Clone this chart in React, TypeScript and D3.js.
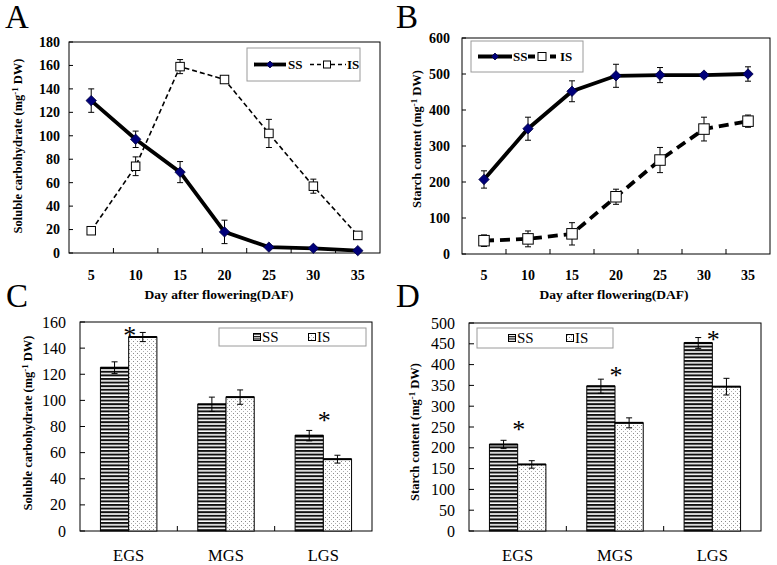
import React from "react";
import * as d3 from "d3";

const days = ["5", "10", "15", "20", "25", "30", "35"];
const aSS = [130, 97, 69, 18, 5, 4, 2];
const aSSErr = [10, 7, 9, 10, 1, 1, 1];
const aIS = [19, 74, 159, 148, 102, 57, 15];
const aISErr = [1, 8, 6, 2, 12, 6, 1];
const bSS = [207, 348, 452, 495, 497, 497, 500];
const bSSErr = [24, 32, 29, 32, 21, 6, 20];
const bIS = [37, 42, 56, 159, 261, 347, 369];
const bISErr = [16, 22, 31, 21, 35, 33, 17];

const stages = ["EGS", "MGS", "LGS"];
const series = ["SS", "IS"];
const cSS = [125, 97, 73];
const cSSErr = [4.5, 5.5, 4];
const cIS = [148.5, 102.5, 55];
const cISErr = [3.5, 5.5, 3];
const cStars = [
  { stage: "EGS", value: 152 },
  { stage: "LGS", value: 87 },
];
const dSS = [208, 348, 452];
const dSSErr = [10, 17, 13];
const dIS = [160, 260, 347];
const dISErr = [9, 12, 20];
const dStars = [
  { stage: "EGS", value: 253 },
  { stage: "MGS", value: 383 },
  { stage: "LGS", value: 468 },
];

const serif = "'Liberation Serif','Times New Roman',serif";
const NAVY = "#00007a";

function Diamond({ x, y, r }: { x: number; y: number; r: number }) {
  return (
    <path
      d={`M${x},${y - r}L${x + r},${y}L${x},${y + r}L${x - r},${y}Z`}
      fill={NAVY}
      stroke="#000040"
      strokeWidth={0.8}
    />
  );
}

function Square({ x, y, s }: { x: number; y: number; s: number }) {
  return <rect x={x - s / 2} y={y - s / 2} width={s} height={s} fill="#fff" stroke="#000" strokeWidth={1} />;
}

function YTitle({ x, y, label, size }: { x: number; y: number; label: string; size: number }) {
  return (
    <text
      transform={`translate(${x},${y}) rotate(-90)`}
      textAnchor="middle"
      fontFamily={serif}
      fontWeight="bold"
      fontSize={size}
      dy="0.35em"
    >
      {label} (mg
      <tspan dy={-4} fontSize={size * 0.7}>
        -1
      </tspan>
      <tspan dy={4}> DW)</tspan>
    </text>
  );
}

type LineProps = {
  l: number; r: number; t: number; b: number;
  yMax: number; yStep: number;
  ss: number[]; ssErr: number[]; is: number[]; isErr: number[];
  labelGap: number;
  title: string; titleX: number; titleY: number;
  isDash: string; isWidth: number; sq: number;
  leg: { x: number; y: number; w: number; h: number; ssX1: number; ssX2: number; ssT: number; isX1: number; isX2: number; isSq: number; isT: number; isDash: string; isW: number; legSq: number };
  letter: string; letterX: number; xTitleX: number;
};

function LinePanel(p: LineProps) {
  const x = d3.scaleBand().domain(days).range([p.l, p.r]).padding(0);
  const cx = (d: string) => (x(d) as number) + x.bandwidth() / 2;
  const y = d3.scaleLinear().domain([0, p.yMax]).range([p.b, p.t]);
  const ticks = d3.range(0, p.yMax + p.yStep / 2, p.yStep);
  const line = d3
    .line<number>()
    .x((_, i) => cx(days[i]))
    .y((v) => y(v));
  const errs = (vals: number[], e: number[]) =>
    vals.map((v, i) => {
      const X = cx(days[i]);
      const y1 = y(v + e[i]);
      const y2 = y(Math.max(0, v - e[i]));
      return (
        <g key={i} stroke="#000" strokeWidth={1}>
          <line x1={X} x2={X} y1={y1} y2={y2} />
          <line x1={X - 3} x2={X + 3} y1={y1} y2={y1} />
          <line x1={X - 3} x2={X + 3} y1={y2} y2={y2} />
        </g>
      );
    });
  const L = p.leg;
  const cy = L.y + L.h / 2;
  return (
    <g>
      <text x={p.letterX} y={28} fontFamily={serif} fontSize={33}>
        {p.letter}
      </text>
      <rect x={p.l} y={p.t} width={p.r - p.l} height={p.b - p.t} fill="#fff" stroke="#000" strokeWidth={1} />
      {ticks.map((v) => (
        <g key={v}>
          <line x1={p.l} x2={p.l + 4} y1={y(v)} y2={y(v)} stroke="#000" />
          <text
            x={p.l - p.labelGap}
            y={y(v)}
            dy="0.35em"
            textAnchor="end"
            fontFamily={serif}
            fontWeight="bold"
            fontSize={14}
          >
            {v}
          </text>
        </g>
      ))}
      {days.slice(1).map((d) => (
        <line key={d} x1={x(d) as number} x2={x(d) as number} y1={p.b} y2={p.b - 5} stroke="#000" />
      ))}
      {days.map((d) => (
        <text key={d} x={cx(d)} y={280} textAnchor="middle" fontFamily={serif} fontWeight="bold" fontSize={14}>
          {d}
        </text>
      ))}
      <text x={p.xTitleX} y={299} textAnchor="middle" fontFamily={serif} fontWeight="bold" fontSize={13.5}>
        Day after flowering(DAF)
      </text>
      <YTitle x={p.titleX} y={p.titleY} label={p.title} size={12.5} />
      {errs(p.is, p.isErr)}
      {errs(p.ss, p.ssErr)}
      <path d={line(p.is) as string} fill="none" stroke="#000" strokeWidth={p.isWidth} strokeDasharray={p.isDash} />
      <path d={line(p.ss) as string} fill="none" stroke="#000" strokeWidth={3.8} />
      {p.is.map((v, i) => (
        <Square key={i} x={cx(days[i])} y={y(v)} s={p.sq} />
      ))}
      {p.ss.map((v, i) => (
        <Diamond key={i} x={cx(days[i])} y={y(v)} r={5.2} />
      ))}
      <rect x={L.x} y={L.y} width={L.w} height={L.h} fill="#fff" stroke="#9a9a9a" strokeWidth={1} />
      <line x1={L.ssX1} x2={L.ssX2} y1={cy} y2={cy} stroke="#000" strokeWidth={3.8} />
      <Diamond x={(L.ssX1 + L.ssX2) / 2} y={cy} r={3.5} />
      <text x={L.ssT} y={cy} dy="0.35em" fontFamily={serif} fontWeight="bold" fontSize={13}>
        SS
      </text>
      <line x1={L.isX1} x2={L.isX2} y1={cy} y2={cy} stroke="#000" strokeWidth={L.isW} strokeDasharray={L.isDash} />
      <Square x={L.isSq} y={cy} s={L.legSq} />
      <text x={L.isT} y={cy} dy="0.35em" fontFamily={serif} fontWeight="bold" fontSize={13}>
        IS
      </text>
    </g>
  );
}

type BarProps = {
  l: number; r: number; t: number; b: number;
  yMax: number; yStep: number;
  ss: number[]; ssErr: number[]; is: number[]; isErr: number[];
  stars: { stage: string; value: number }[];
  title: string; titleX: number; titleY: number;
  leg: { x: number; y: number; w: number; h: number; ssI: number; isI: number };
  letter: string; letterX: number;
};

function BarPanel(p: BarProps) {
  const x0 = d3.scaleBand().domain(stages).range([p.l, p.r]).paddingInner(0.42).paddingOuter(0.21);
  const x1 = d3.scaleBand().domain(series).range([0, x0.bandwidth()]);
  const y = d3.scaleLinear().domain([0, p.yMax]).range([p.b, p.t]);
  const ticks = d3.range(0, p.yMax + p.yStep / 2, p.yStep);
  const step = x0.step();
  const L = p.leg;
  const cy = L.y + L.h / 2;
  const bars = (vals: number[], errs: number[], s: string) =>
    vals.map((v, i) => {
      const bx = (x0(stages[i]) as number) + (x1(s) as number);
      const bw = x1.bandwidth();
      const X = bx + bw / 2;
      const y1 = y(v + errs[i]);
      const y2 = y(v - errs[i]);
      return (
        <g key={s + i}>
          <rect
            x={bx}
            y={y(v)}
            width={bw}
            height={p.b - y(v)}
            fill={s === "SS" ? "url(#stripes)" : "url(#dots)"}
            stroke="#000"
            strokeWidth={1}
          />
          <line x1={bx} x2={bx + bw} y1={y(v)} y2={y(v)} stroke="#000" strokeWidth={2} />
          <g stroke="#000" strokeWidth={1}>
            <line x1={X} x2={X} y1={y1} y2={y2} />
            <line x1={X - 3} x2={X + 3} y1={y1} y2={y1} />
            <line x1={X - 3} x2={X + 3} y1={y2} y2={y2} />
          </g>
        </g>
      );
    });
  return (
    <g>
      <text x={p.letterX} y={307} fontFamily={serif} fontSize={33}>
        {p.letter}
      </text>
      <rect x={p.l} y={p.t} width={p.r - p.l} height={p.b - p.t} fill="#fff" stroke="#000" strokeWidth={1} />
      {ticks.map((v) => (
        <g key={v}>
          <line x1={p.l} x2={p.l + 5} y1={y(v)} y2={y(v)} stroke="#000" />
          <text x={p.l - 14} y={y(v)} dy="0.35em" textAnchor="end" fontFamily={serif} fontSize={16}>
            {v}
          </text>
        </g>
      ))}
      {[1, 2].map((i) => (
        <line key={i} x1={p.l + i * step} x2={p.l + i * step} y1={p.b} y2={p.b - 5} stroke="#000" />
      ))}
      {stages.map((s) => (
        <text
          key={s}
          x={(x0(s) as number) + x0.bandwidth() / 2}
          y={561}
          textAnchor="middle"
          fontFamily={serif}
          fontSize={16.5}
        >
          {s}
        </text>
      ))}
      <YTitle x={p.titleX} y={p.titleY} label={p.title} size={12.5} />
      {bars(p.ss, p.ssErr, "SS")}
      {bars(p.is, p.isErr, "IS")}
      {p.stars.map((st) => (
        <text
          key={st.stage}
          x={(x0(st.stage) as number) + x0.bandwidth() / 2 + 1}
          y={y(st.value) + 12}
          textAnchor="middle"
          fontFamily={serif}
          fontSize={26}
        >
          *
        </text>
      ))}
      <rect x={L.x} y={L.y} width={L.w} height={L.h} fill="#fff" stroke="#9a9a9a" strokeWidth={1} />
      <rect x={L.ssI - 3.5} y={cy - 3.5} width={7} height={7} fill="url(#stripesL)" stroke="#000" strokeWidth={1} />
      <text x={L.ssI + 5} y={cy} dy="0.35em" fontFamily={serif} fontSize={15}>
        SS
      </text>
      <rect x={L.isI - 3.5} y={cy - 3.5} width={7} height={7} fill="url(#dots)" stroke="#000" strokeWidth={1} />
      <text x={L.isI + 5} y={cy} dy="0.35em" fontFamily={serif} fontSize={15}>
        IS
      </text>
    </g>
  );
}

export default function App() {
  return (
    <svg
      width={777}
      height={565}
      style={{ position: "fixed", left: 0, top: 0, background: "#fff" }}
    >
      <defs>
        <pattern id="stripes" patternUnits="userSpaceOnUse" width={6} height={3.6}>
          <rect width={6} height={3.6} fill="#fff" />
          <rect y={0} width={6} height={2} fill="#111" />
        </pattern>
        <pattern id="stripesL" patternUnits="userSpaceOnUse" width={6} height={2.4}>
          <rect width={6} height={2.4} fill="#fff" />
          <rect y={0} width={6} height={1.2} fill="#111" />
        </pattern>
        <pattern id="dots" patternUnits="userSpaceOnUse" width={4} height={4}>
          <rect width={4} height={4} fill="#fff" />
          <rect x={1} y={1} width={1} height={1} fill="#8a8a8a" />
          <rect x={3} y={3} width={1} height={1} fill="#b0b0b0" />
        </pattern>
      </defs>
      <rect width={777} height={565} fill="#fff" />
      <LinePanel
        l={69} r={380} t={42} b={253}
        yMax={180} yStep={20}
        ss={aSS} ssErr={aSSErr} is={aIS} isErr={aISErr}
        labelGap={9}
        title="Soluble carbohydrate" titleX={18} titleY={146}
        isDash="5,3" isWidth={1.6} sq={8.5}
        leg={{ x: 247, y: 48, w: 113, h: 33, ssX1: 254, ssX2: 286, ssT: 288, isX1: 310, isX2: 346, isSq: 327, isT: 347, isDash: "4,3", isW: 1.6, legSq: 7 }}
        letter="A" letterX={5} xTitleX={219}
      />
      <LinePanel
        l={462} r={770} t={38} b={254}
        yMax={600} yStep={100}
        ss={bSS} ssErr={bSSErr} is={bIS} isErr={bISErr}
        labelGap={12}
        title="Starch content" titleX={417} titleY={139}
        isDash="10,6" isWidth={3.8} sq={10.5}
        leg={{ x: 471, y: 41, w: 112, h: 31, ssX1: 478, ssX2: 512, ssT: 513, isX1: 528, isX2: 556, isSq: 542, isT: 560, isDash: "7,4", isW: 3.8, legSq: 8 }}
        letter="B" letterX={396} xTitleX={614}
      />
      <BarPanel
        l={80} r={372} t={322} b={531}
        yMax={160} yStep={20}
        ss={cSS} ssErr={cSSErr} is={cIS} isErr={cISErr}
        stars={cStars}
        title="Soluble carbohydrate" titleX={28} titleY={423}
        leg={{ x: 219, y: 328, w: 147, h: 18, ssI: 257, isI: 312 }}
        letter="C" letterX={6}
      />
      <BarPanel
        l={469} r={761} t={323} b={531}
        yMax={500} yStep={50}
        ss={dSS} ssErr={dSSErr} is={dIS} isErr={dISErr}
        stars={dStars}
        title="Starch content" titleX={415} titleY={432}
        leg={{ x: 477, y: 328, w: 136, h: 20, ssI: 512, isI: 570 }}
        letter="D" letterX={396}
      />
    </svg>
  );
}
